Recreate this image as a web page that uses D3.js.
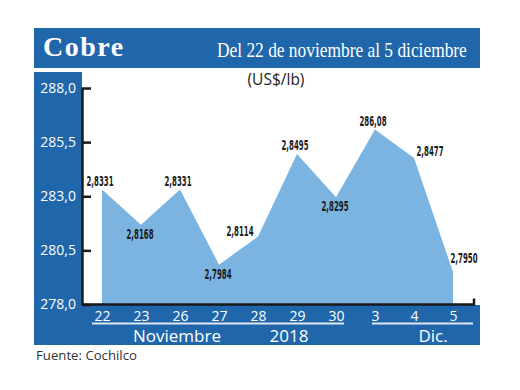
<!DOCTYPE html>
<html>
<head>
<meta charset="utf-8">
<script src="https://cdn.jsdelivr.net/npm/d3@7"></script>
<style>
  html, body { margin: 0; padding: 0; background: #fff; }
  svg { display: block; }
</style>
</head>
<body>
<svg id="chart" width="520" height="390"></svg>
<script>
// ---- data ----
const days = ["22", "23", "26", "27", "28", "29", "30", "3", "4", "5"];
const values = [283.31, 281.68, 283.31, 279.84, 281.14, 284.95, 282.95, 286.08, 284.77, 279.50];
const valueLabels = ["2,8331", "2,8168", "2,8331", "2,7984", "2,8114", "2,8495", "2,8295", "286,08", "2,8477", "2,7950"];
const labelPlacement = ["above", "below", "above", "below", "left", "above", "below", "above", "right", "aboveRight"];
const yTicks = [278, 280.5, 283, 285.5, 288];
const monthLabels = ["Noviembre", "2018", "Dic."];

const title = "Cobre";
const subtitle = "Del 22 de noviembre al 5 diciembre";
const unit = "(US$/lb)";
const source = "Fuente: Cochilco";

// ---- styles ----
const BLUE = "#1f66aa";
const AREA = "#7bb4e1";
const SANS = "'Open Sans', 'Noto Sans', sans-serif";
const NARROW = "'Liberation Sans Narrow', 'DejaVu Sans Condensed', sans-serif";
const SERIF = "'Liberation Serif', 'DejaVu Serif', serif";

const svg = d3.select("#chart");
svg.append("rect").attr("width", 520).attr("height", 390).attr("fill", "#fff");

const x = d3.scalePoint().domain(days).range([102, 453]).padding(0);
const y = d3.scaleLinear().domain([278, 288]).range([304.5, 88]);

// header band
svg.append("rect").attr("x", 34).attr("y", 28).attr("width", 446).attr("height", 40).attr("fill", BLUE);
svg.append("text").attr("x", 43).attr("y", 56)
  .attr("font-family", SERIF).attr("font-weight", "bold").attr("font-size", 28)
  .attr("letter-spacing", 1.5).attr("fill", "#fff").text(title);
const sub = svg.append("text").attr("x", 0).attr("y", 0)
  .attr("font-family", SERIF).attr("font-size", 22)
  .attr("fill", "#fff").text(subtitle);
const subW = sub.node().getComputedTextLength();
sub.attr("transform", `translate(217,57) scale(${250 / subW},1)`);

// unit
svg.append("text").attr("x", 276).attr("y", 85).attr("text-anchor", "middle")
  .attr("font-family", SANS).attr("font-size", 15.5).attr("fill", "#222").text(unit);

// area
const area = d3.area()
  .x((d, i) => x(days[i]))
  .y0(y(278))
  .y1(d => y(d));
svg.append("path").datum(values).attr("d", area).attr("fill", AREA);

// left panel + bottom band
svg.append("rect").attr("x", 34).attr("y", 72).attr("width", 48).attr("height", 273).attr("fill", BLUE);
svg.append("rect").attr("x", 34).attr("y", 305).attr("width", 446).attr("height", 40).attr("fill", BLUE);

// y axis
const yAxis = svg.append("g").attr("transform", "translate(82,0)")
  .call(d3.axisLeft(y).tickValues(yTicks).tickSize(-9).tickSizeOuter(0).tickPadding(6)
    .tickFormat(d => d.toFixed(1).replace(".", ",")));
yAxis.select(".domain").attr("stroke", "#1a1a1a").attr("stroke-width", 2.5);
yAxis.selectAll(".tick line").attr("stroke", "#1a1a1a").attr("stroke-width", 2.5);
yAxis.selectAll(".tick text").attr("fill", "#fff").attr("font-family", SANS).attr("font-size", 14);

// bottom baseline with end hook
const xr = x.range();
svg.append("path")
  .attr("d", d3.line()([[82, y(278)], [xr[1] + 21, y(278)], [xr[1] + 21, y(278) - 6]]))
  .attr("fill", "none").attr("stroke", "#1a1a1a").attr("stroke-width", 2.5);

// x axis labels
const xAxis = svg.append("g").attr("transform", "translate(0,305)")
  .call(d3.axisBottom(x).tickSize(0).tickPadding(6));
xAxis.select(".domain").remove();
xAxis.selectAll(".tick text").attr("fill", "#fff").attr("font-family", SANS).attr("font-size", 14);

// month underlines
svg.append("line").attr("x1", x("22") - 10).attr("x2", x("30") + 8).attr("y1", 323.5).attr("y2", 323.5)
  .attr("stroke", "#dfe6ee").attr("stroke-width", 1.8);
svg.append("line").attr("x1", x("3") - 3).attr("x2", x("5") + 20).attr("y1", 323.5).attr("y2", 323.5)
  .attr("stroke", "#dfe6ee").attr("stroke-width", 1.8);

const monthX = [177, 289, 433];
svg.selectAll(".month").data(monthLabels).enter().append("text")
  .attr("x", (d, i) => monthX[i]).attr("y", 342).attr("text-anchor", "middle")
  .attr("font-family", SANS).attr("font-size", 17).attr("fill", "#fff").text(d => d);

// value labels
const offsets = {
  above: [-2, -4], below: [-1, 14], left: [-18, -1], right: [16, -2], aboveRight: [11, -9]
};
svg.selectAll(".vlabel").data(values).enter().append("text")
  .attr("x", (d, i) => x(days[i]) + offsets[labelPlacement[i]][0])
  .attr("y", (d, i) => y(d) + offsets[labelPlacement[i]][1])
  .attr("text-anchor", "middle")
  .attr("font-family", NARROW).attr("font-weight", "bold").attr("font-size", 13.5)
  .attr("textLength", 27).attr("lengthAdjust", "spacingAndGlyphs")
  .attr("fill", "#1a1a1a").text((d, i) => valueLabels[i]);

// source
svg.append("text").attr("x", 36).attr("y", 360)
  .attr("font-family", SANS).attr("font-size", 13.2).attr("fill", "#333").text(source);
</script>
</body>
</html>
